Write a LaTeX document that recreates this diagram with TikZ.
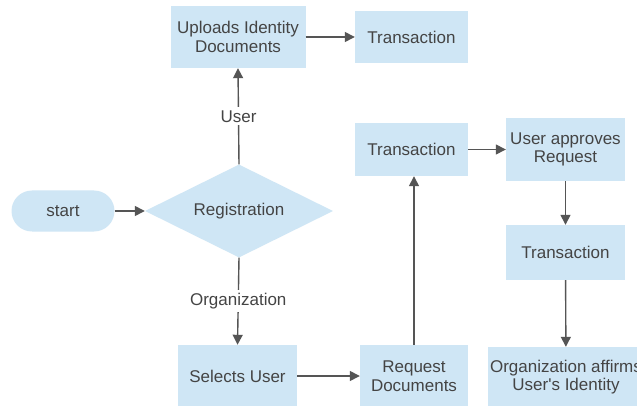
\documentclass[tikz,border=0pt]{standalone}
\usepackage{fontspec}
\setmainfont{Liberation Sans}[Ligatures=TeXOff]
\usetikzlibrary{shapes.geometric,arrows.meta}
\definecolor{boxblue}{HTML}{CFE6F5}
\definecolor{inkgray}{HTML}{444444}
\definecolor{linegray}{HTML}{555555}
\begin{document}
\begin{tikzpicture}[x=1pt,y=-1pt,
  font=\fontsize{17}{18.5}\selectfont, text=inkgray,
  stepbox/.style={rectangle, fill=boxblue, inner sep=0pt, align=center},
  flow/.style={draw=linegray, line width=1.4pt, -{Triangle[length=10pt,width=10pt]}},
  edgelabel/.style={fill=white, inner sep=3pt}]
\useasboundingbox (0,0) rectangle (637,406);
\fill[white] (0,0) rectangle (637,406);

% terminal and decision
\node[stepbox, rounded corners=20.5pt, minimum width=103pt, minimum height=41pt] (start) at (63,211) {start};
\node[diamond, fill=boxblue, inner sep=0pt, aspect=2.02, minimum width=188pt, minimum height=93pt] (reg) at (239,211) {Registration};

% user branch
\node[stepbox, minimum width=135pt, minimum height=62pt] (upload) at (238,37) {Uploads Identity\\Documents};
\node[stepbox, minimum width=113pt, minimum height=52pt] (tx1) at (411.5,37) {Transaction};

% organization branch
\node[stepbox, minimum width=119pt, minimum height=62pt] (select) at (237.5,376) {Selects User};
\node[stepbox, minimum width=108pt, minimum height=62pt] (reqdoc) at (414,376) {Request\\Documents};
\node[stepbox, minimum width=113pt, minimum height=53pt] (tx2) at (411.5,149.5) {Transaction};
\node[stepbox, minimum width=119pt, minimum height=63pt] (approve) at (565.5,149.5) {User approves\\Request};
\node[stepbox, minimum width=119pt, minimum height=55pt] (tx3) at (565.5,252.5) {Transaction};
\node[stepbox, minimum width=156pt, minimum height=60pt] (affirm) at (566,377) {Organization affirms\\User's Identity};

% connectors
\draw[flow] (start) -- (reg);
\draw[flow] (reg.north) -- node[edgelabel] (lbluser) {User} (upload.south);
\draw[flow] (upload) -- (tx1);
\draw[flow] (reg.south) -- node[edgelabel] (lblorg) {Organization} (select.north);
\draw[flow] (select) -- (reqdoc);
\draw[flow] (reqdoc.north) -- (reqdoc.north |- tx2.south);
\draw[flow] (tx2) -- (approve);
\draw[flow] (approve) -- (tx3);
\draw[flow] (tx3) -- (affirm);
\end{tikzpicture}
\end{document}
